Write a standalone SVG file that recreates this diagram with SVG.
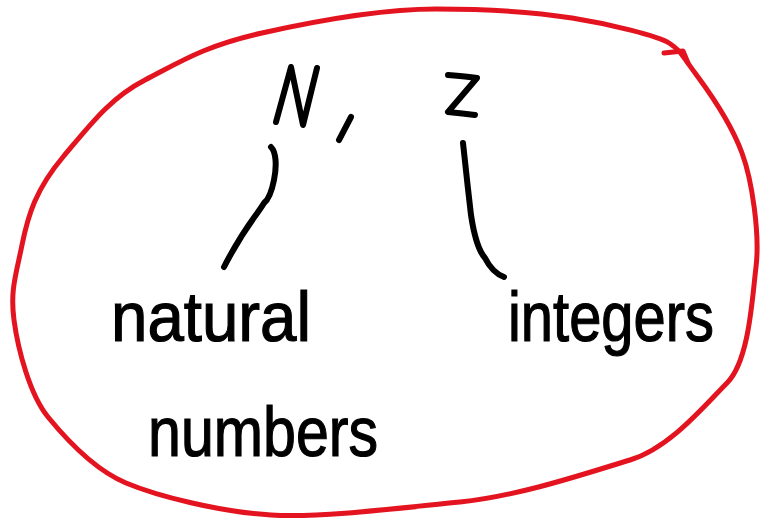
<svg xmlns="http://www.w3.org/2000/svg" width="760" height="520" viewBox="0 0 760 520">
<style>
.ink{fill:none;stroke:#000;stroke-width:6;stroke-linecap:round;stroke-linejoin:round}
.loop{fill:none;stroke:#e3141f;stroke-width:5;stroke-linecap:round;stroke-linejoin:round}
.hw{font-family:"Liberation Sans","DejaVu Sans",sans-serif;fill:#000;stroke:#000;stroke-width:1.2;font-size:70px}
</style>
<rect width="760" height="520" fill="#fff"/>
<g id="set-boundary">
<path class="loop" d="M436,9 C380,9 320,20 262,33 S180,62 145,80 S90,125 63,157 S28,215 22,245 S10,290 14,320 S30,395 48,417 S95,470 126,483 S220,512 271,515 S400,508 460,502 S590,472 630,460 S705,405 727,383 S752,300 756,267 S752,180 742,153 S715,100 698,77 S680,50 669,43 S610,24 572,18 S480,9 436,9 Z"/>
<path class="loop" d="M664,53 L683,51 L688,63"/>
</g>
<g id="node-sets">
<path class="ink" d="M276,122 L291,67 L303,125 L317,68"/>
<path class="ink" d="M351,117 L339,140"/>
<path class="ink" d="M448,75 C460,76 470,77 477,78 L448,112 C458,113 467,114 475,115"/>
</g>
<g id="connectors">
<path class="ink" d="M271,147 C276,152 277,165 274,180 C271,195 268,200 264,203 C255,218 245,226 224,267"/>
<path class="ink" d="M463,143 C466,170 468,190 471,215 C474,235 478,250 485,258 C490,268 496,274 504,277"/>
</g>
<g id="node-natural">
<text class="hw" x="111" y="341" textLength="200" lengthAdjust="spacingAndGlyphs">natural</text>
<text class="hw" x="148" y="456" textLength="230" lengthAdjust="spacingAndGlyphs">numbers</text>
</g>
<g id="node-integers">
<text class="hw" x="508" y="341" textLength="206" lengthAdjust="spacingAndGlyphs">integers</text>
</g>
</svg>
